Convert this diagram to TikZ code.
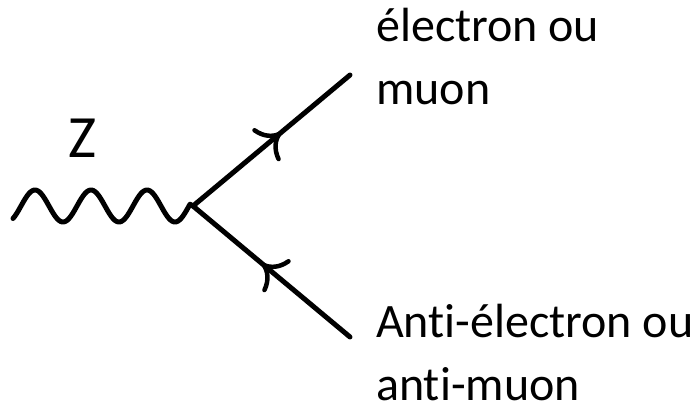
\documentclass[tikz,border=0pt]{standalone}
\usepackage{fontspec}
\setmainfont{Carlito}[Ligatures=NoCommon]
\usetikzlibrary{arrows.meta,decorations.markings}
\begin{document}
\begin{tikzpicture}[x=1pt,y=-1pt,
  lbl/.style={inner sep=0pt,anchor=base west,align=left,font=\fontsize{48}{63}\selectfont},
  particle/.style={line width=5pt,line cap=round},
  fermion/.style={particle,postaction={decorate},decoration={markings,
    mark=at position 0.56 with {\arrow{Computer Modern Rightarrow[length=21pt,width=42pt,line width=4.5pt]}}}},
  photon/.style={line width=5pt,line cap=round,line join=round}]
\useasboundingbox (0,0) rectangle (700,404);
\coordinate (v) at (193,206);
\coordinate (zs) at (13,218.5);
\coordinate (e1) at (350,75);
\coordinate (e2) at (350,337);
\draw[photon] plot[domain=13:190,samples=120,smooth] (\x,{206-16*cos(6.428571*(\x-35))}) -- (v);
\draw[fermion] (v) -- (e1);
\draw[fermion] (e2) -- (v);
\node[lbl,font=\fontsize{60}{60}\selectfont] (z) at (68,157) {Z};
\node[lbl] (t1) at (376,104) {électron ou\\muon};
\node[lbl] (t2) at (376,400) {Anti-électron ou\\anti-muon};
\end{tikzpicture}
\end{document}
